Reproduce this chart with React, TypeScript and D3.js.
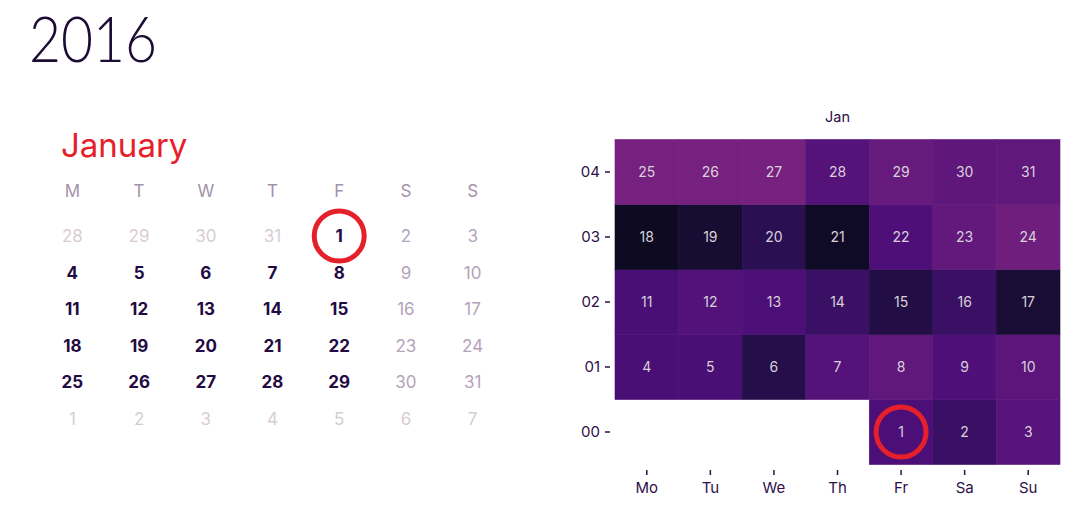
import React from "react";
import * as d3 from "d3";

// --- data ---
const YEAR = 2016;
const MONTH_NAME = "January";
const MONTH_ABBR = "Jan";
const weekdayShort = ["M", "T", "W", "T", "F", "S", "S"];
const weekdayLabels = ["Mo", "Tu", "We", "Th", "Fr", "Sa", "Su"];
const weekLabels = ["00", "01", "02", "03", "04"];
// relative intensity for each day of Jan 2016 (0 = darkest, 1 = brightest)
const dayValues = [
  0.55, 0.42, 0.68,
  0.53, 0.53, 0.25, 0.65, 0.78, 0.57, 0.72,
  0.53, 0.62, 0.55, 0.42, 0.22, 0.42, 0.12,
  0.0, 0.1, 0.3, 0.02, 0.57, 0.8, 0.93,
  1.0, 1.0, 1.0, 0.65, 0.82, 0.75, 0.78,
];
const highlightDay = 1;

const W = 1086;
const H = 530;
const FONT = "Inter, 'Liberation Sans', sans-serif";

const monthStart = new Date(YEAR, 0, 1);
const dow = (d: Date) => (d.getDay() + 6) % 7; // monday first

const days = dayValues.map((v, i) => {
  const date = new Date(YEAR, 0, i + 1);
  return {
    day: i + 1,
    value: v,
    col: dow(date),
    week: weekLabels[d3.timeMonday.count(monthStart, date)],
  };
});

const color = d3
  .scaleLinear<string>()
  .domain([0, 0.3, 0.55, 1])
  .range(["#0d0a22", "#2a1052", "#4c0f78", "#76217f"])
  .interpolate(d3.interpolateRgb);

function MiniCalendar() {
  const x = d3.scaleBand<number>().domain(d3.range(7)).range([39, 506]);
  const gridStart = d3.timeMonday.floor(monthStart);
  const cells = d3.range(42).map((i) => d3.timeDay.offset(gridStart, i));
  const y = d3.scaleLinear().domain([0, 5]).range([242, 425]);
  return (
    <g fontFamily={FONT}>
      <text
        x={29}
        y={62}
        fontSize={64}
        fontWeight={300}
        fill="#1c0c33"
        fontFamily="Lato, Inter, sans-serif"
        textLength={128}
        lengthAdjust="spacingAndGlyphs"
      >
        {YEAR}
      </text>
      <text x={61} y={157} fontSize={33} fill="#e5202a">
        {MONTH_NAME}
      </text>
      {weekdayShort.map((s, i) => (
        <text key={i} x={x(i)! + x.bandwidth() / 2} y={197} textAnchor="middle" fontSize={17} fill="#a392ab">
          {s}
        </text>
      ))}
      {cells.map((d, i) => {
        const inMonth = d.getMonth() === 0;
        const c = dow(d);
        const weekend = c >= 5;
        const fill = !inMonth ? "#d8ccd4" : weekend ? "#b3a3bb" : "#230a42";
        return (
          <text
            key={i}
            x={x(c)! + x.bandwidth() / 2}
            y={y(Math.floor(i / 7))}
            textAnchor="middle"
            fontSize={17}
            fontWeight={inMonth && !weekend ? 700 : 400}
            fill={fill}
          >
            {d.getDate()}
          </text>
        );
      })}
      {cells
        .map((d, i) => ({ d, i }))
        .filter(({ d }) => d.getMonth() === 0 && d.getDate() === highlightDay)
        .map(({ d, i }) => (
          <circle
            key="hl"
            cx={x(dow(d))! + x.bandwidth() / 2}
            cy={y(Math.floor(i / 7)) - 6}
            r={25}
            fill="none"
            stroke="#e5202a"
            strokeWidth={5}
          />
        ))}
    </g>
  );
}

function HeatCalendar() {
  const x = d3.scaleBand<string>().domain(weekdayLabels).range([615, 1060]);
  const y = d3.scaleBand<string>().domain([...weekLabels].reverse()).range([139.5, 464.5]);
  const axisColor = "#2d0f4a";
  return (
    <g fontFamily={FONT}>
      <text x={(615 + 1060) / 2} y={122} textAnchor="middle" fontSize={14.5} fill={axisColor}>
        {MONTH_ABBR}
      </text>
      {days.map((d) => (
        <rect
          key={d.day}
          x={x(weekdayLabels[d.col])}
          y={y(d.week)}
          width={x.bandwidth()}
          height={y.bandwidth()}
          fill={color(d.value)}
          stroke={color(d.value)}
          strokeWidth={0.6}
        />
      ))}
      {days.map((d) => (
        <text
          key={"t" + d.day}
          x={x(weekdayLabels[d.col])! + x.bandwidth() / 2}
          y={y(d.week)! + y.bandwidth() / 2 + 5}
          textAnchor="middle"
          fontSize={14}
          fill="#d9d0da"
        >
          {d.day}
        </text>
      ))}
      {weekLabels.map((w) => (
        <g key={w} transform={`translate(0,${y(w)! + y.bandwidth() / 2})`}>
          <line x1={605} x2={610} stroke={axisColor} strokeWidth={1.5} />
          <text x={600} y={5} textAnchor="end" fontSize={15} fill={axisColor}>
            {w}
          </text>
        </g>
      ))}
      {weekdayLabels.map((w) => (
        <g key={w} transform={`translate(${x(w)! + x.bandwidth() / 2},0)`}>
          <line y1={470} y2={475} stroke={axisColor} strokeWidth={1.5} />
          <text y={493} textAnchor="middle" fontSize={15} fill={axisColor}>
            {w}
          </text>
        </g>
      ))}
      {days
        .filter((d) => d.day === highlightDay)
        .map((d) => (
          <circle
            key="hl"
            cx={x(weekdayLabels[d.col])! + x.bandwidth() / 2}
            cy={y(d.week)! + y.bandwidth() / 2}
            r={25}
            fill="none"
            stroke="#e5202a"
            strokeWidth={5}
          />
        ))}
    </g>
  );
}

export default function App() {
  return (
    <svg width={W} height={H} style={{ position: "absolute", left: 0, top: 0, background: "#fff" }}>
      <MiniCalendar />
      <HeatCalendar />
    </svg>
  );
}
